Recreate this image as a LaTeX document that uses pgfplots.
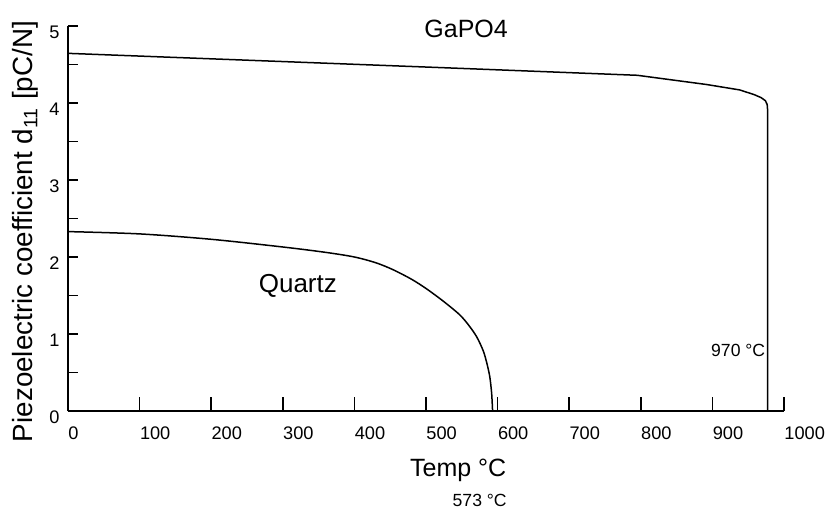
\documentclass[border=0pt]{standalone}
\usepackage{fontspec}
\setmainfont{Liberation Sans}
\usepackage{pgfplots}
\pgfplotsset{compat=1.18}

\begin{document}
\begin{tikzpicture}
\path[use as bounding box] (-34pt,-49pt) rectangle (378.5pt,205.5pt);
\begin{axis}[
  at={(0,0)}, anchor=south west,
  scale only axis, width=358pt, height=192.5pt,
  xmin=0, xmax=1000, ymin=0, ymax=5,
  axis x line=bottom, axis y line=left,
  axis line style={-, line width=0.8pt},
  tick align=inside,
  xtick={0,100,...,1000},
  major tick length=7pt,
  ytick={0,1,...,5},
  minor ytick={0.5,1,...,5},
  minor tick length=5pt,
  major y tick style={draw=none},
  tick style={black, line width=0.8pt},
  /pgf/number format/assume math mode=true,
  /pgf/number format/1000 sep={},
  xticklabel style={anchor=north west, inner sep=0pt, yshift=-7.5pt,
    font=\fontsize{9.1}{10}\selectfont},
  yticklabel style={anchor=east, inner sep=0pt, xshift=-4pt, yshift=-3pt,
    font=\fontsize{9.1}{10}\selectfont},
  clip=false,
]
% GaPO4
\addplot[black, line width=0.75pt] coordinates {
  (0,4.645) (520,4.46) (795,4.36) (892,4.24) (938,4.17) (958,4.11)
  (968,4.07) (974,4.03) (976.5,3.98) (977,3.92) (977,0)
};
% Quartz
\addplot[black, line width=0.75pt, smooth, tension=0.5] coordinates {
  (0,2.33) (100,2.30) (200,2.23) (300,2.13) (360,2.06) (400,2.00)
  (430,1.925) (454,1.835) (480,1.71) (501,1.585) (525,1.42) (547,1.25)
  (560,1.11) (571,0.96) (580,0.78) (585,0.62) (589,0.45) (591.5,0.25)
  (592.5,0.1) (593,0)
};
\node[anchor=base, font=\fontsize{12.5}{14}\selectfont] at (axis cs:556,4.857) {GaPO4};
\node[anchor=base, font=\fontsize{13}{15}\selectfont] at (axis cs:321,1.545) {Quartz};
\node[anchor=base, font=\fontsize{8.8}{10}\selectfont] at (axis cs:936,0.714) {970 °C};
\node[anchor=base, font=\fontsize{12.5}{14}\selectfont] at (axis cs:545,-0.857) {Temp °C};
\node[anchor=base, font=\fontsize{8.8}{10}\selectfont] at (axis cs:575,-1.234) {573 °C};
\node[anchor=base, rotate=90, font=\fontsize{13.9}{15}\selectfont] at (axis cs:-48.9,2.33)
  {Piezoelectric coefficient d\textsubscript{11} [pC/N]};
\end{axis}
\end{tikzpicture}
\end{document}
